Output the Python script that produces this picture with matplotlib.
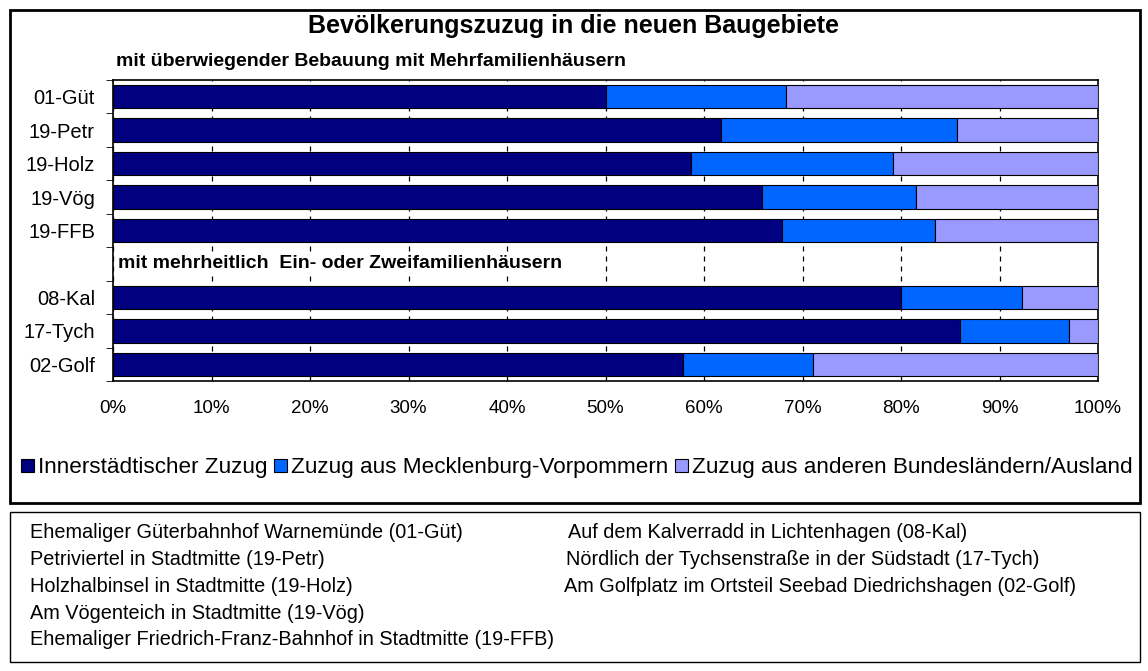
import matplotlib as mpl
import matplotlib.pyplot as plt
import numpy as np
from matplotlib.patches import Rectangle

mpl.rcParams["font.family"] = ["Liberation Sans", "DejaVu Sans"]

# =======================
# Data (percent shares)
# =======================
CATEGORIES = ["01-Güt", "19-Petr", "19-Holz", "19-Vög", "19-FFB",
              "08-Kal", "17-Tych", "02-Golf"]
INNER = [50.0, 61.7, 58.7, 65.9, 67.9, 80.0, 86.0, 57.9]
MV = [18.3, 24.0, 20.5, 15.6, 15.6, 12.3, 11.1, 13.2]
OTHER = [100 - a - b for a, b in zip(INNER, MV)]

SERIES_NAMES = ["Innerstädtischer Zuzug",
                "Zuzug aus Mecklenburg-Vorpommern",
                "Zuzug aus anderen Bundesländern/Ausland"]
COLORS = ["#000080", "#0066FF", "#9999FF"]

TITLE = "Bevölkerungszuzug in die neuen Baugebiete"
GROUP1 = "mit überwiegender Bebauung mit Mehrfamilienhäusern"
GROUP2 = "mit mehrheitlich  Ein- oder Zweifamilienhäusern"

NOTES_LEFT = [
    "Ehemaliger Güterbahnhof Warnemünde (01-Güt)",
    "Petriviertel in Stadtmitte (19-Petr)",
    "Holzhalbinsel in Stadtmitte (19-Holz)",
    "Am Vögenteich in Stadtmitte (19-Vög)",
    "Ehemaliger Friedrich-Franz-Bahnhof in Stadtmitte (19-FFB)",
]
NOTES_RIGHT = [
    "Auf dem Kalverradd in Lichtenhagen (08-Kal)",
    "Nördlich der Tychsenstraße in der Südstadt (17-Tych)",
    "Am Golfplatz im Ortsteil Seebad Diedrichshagen (02-Golf)",
]

W, H = 1148, 671
NARROW = ["Liberation Sans Narrow", "Liberation Sans", "DejaVu Sans"]


def main():
    fig = plt.figure(figsize=(W / 100, H / 100), dpi=100)
    fig.patch.set_facecolor("white")

    # outer boxes
    fig.add_artist(Rectangle((10 / W, 1 - 503 / H), 1130 / W, 493 / H,
                             transform=fig.transFigure, fill=False,
                             edgecolor="black", linewidth=2))
    fig.add_artist(Rectangle((10 / W, 1 - 662 / H), 1130 / W, 150 / H,
                             transform=fig.transFigure, fill=False,
                             edgecolor="black", linewidth=1))

    ax = fig.add_axes([113 / W, 1 - 381 / H, 985 / W, 301 / H])

    # rows: 5 bars, a gap row, 3 bars
    ypos = np.array([0, 1, 2, 3, 4, 6, 7, 8])
    left = np.zeros(len(CATEGORIES))
    for vals, name, col in zip([INNER, MV, OTHER], SERIES_NAMES, COLORS):
        ax.barh(ypos, vals, left=left, height=0.7, color=col,
                edgecolor="black", linewidth=0.8, label=name, zorder=3)
        left += np.array(vals)

    ax.set_xlim(0, 100)
    ax.set_ylim(8.5, -0.5)
    ax.set_xticks(np.arange(0, 101, 10))
    ax.set_xticklabels([f"{v}%" for v in range(0, 101, 10)], fontsize=13.5)
    ax.set_yticks(ypos)
    ax.set_yticklabels(CATEGORIES, fontsize=14.5)
    ax.set_yticks(np.arange(-0.5, 9, 1), minor=True)
    ax.tick_params(axis="y", which="major", length=0, pad=13)
    ax.tick_params(axis="y", which="minor", length=5, direction="out")
    ax.tick_params(axis="x", length=0, pad=14)
    ax.xaxis.grid(True, linestyle=(0, (4, 4)), color="black", linewidth=0.9,
                  zorder=0)
    ax.set_axisbelow(True)
    for s in ax.spines.values():
        s.set_linewidth(1.2)

    ax.text(0.5, 5, GROUP2, fontsize=14, fontweight="bold", va="center",
            ha="left", zorder=4,
            bbox=dict(facecolor="white", edgecolor="none", pad=2))

    fig.text(574 / W, 1 - 26 / H, TITLE, fontsize=18, fontweight="bold",
             ha="center", va="center")
    fig.text(116 / W, 1 - 62 / H, GROUP1, fontsize=14, fontweight="bold",
             ha="left", va="center")

    handles, labels = ax.get_legend_handles_labels()
    leg = fig.legend(handles, labels, loc="center", ncol=3,
                     bbox_to_anchor=(577 / W, 1 - 468 / H), frameon=False,
                     prop=dict(family=NARROW, size=16.2), handlelength=0.55,
                     handleheight=0.55, handletextpad=0.2, columnspacing=0.3)
    for h in leg.legend_handles:
        h.set_linewidth(0.8)

    for i, t in enumerate(NOTES_LEFT):
        fig.text(30 / W, 1 - (533 + i * 26.7) / H, t, fontsize=14.3,
                 family=NARROW, ha="left", va="center")
    for i, t in enumerate(NOTES_RIGHT):
        x = 568 if i == 0 else 566 if i == 1 else 564
        fig.text(x / W, 1 - (533 + i * 26.7) / H, t, fontsize=14.3,
                 family=NARROW, ha="left", va="center")

    fig.savefig("out.png", dpi=100)


if __name__ == "__main__":
    main()
